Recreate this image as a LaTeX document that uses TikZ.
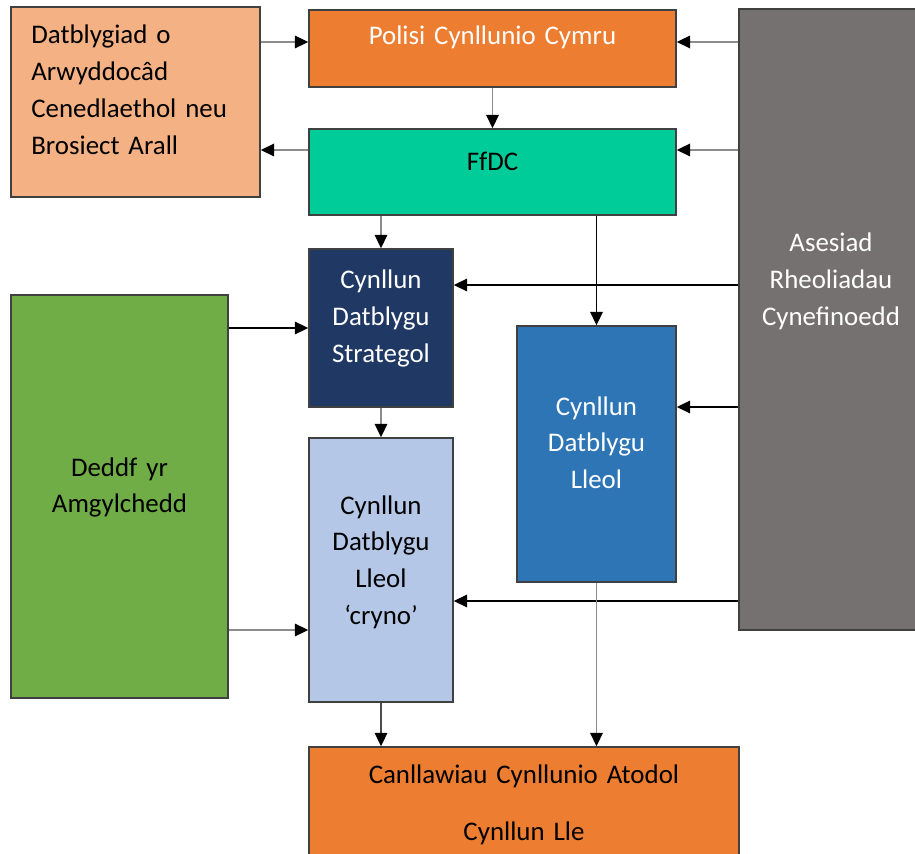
\documentclass[tikz,border=0pt]{standalone}
\usepackage{fontspec}
\setmainfont{Carlito}
\usepackage{tikz}
\usetikzlibrary{arrows.meta, positioning}
\definecolor{peach}{HTML}{F4B183}
\definecolor{oren}{HTML}{ED7D31}
\definecolor{gwyrddlas}{HTML}{00CC99}
\definecolor{llwyd}{HTML}{767171}
\definecolor{glastywyll}{HTML}{203864}
\definecolor{glas}{HTML}{2E75B6}
\definecolor{gwyrdd}{HTML}{70AD47}
\definecolor{glasgolau}{HTML}{B4C7E7}

\begin{document}
\begin{tikzpicture}[
                x=0.02cm, y=-0.02cm,
                box/.style={draw=black!75, line width=0.8pt, inner sep=0pt},
                lbl/.style={anchor=base, inner sep=0pt, text width=4.6cm, align=center, font=\fontsize{15.3}{21.05}\selectfont},
                arr/.style={-{Triangle[length=2.7mm, width=2.5mm, color=black]}, line width=1pt, black!45},
                darr/.style={arr, black}
            ]
                \useasboundingbox (0,0) rectangle (915,854);

                \node[box, fill=peach, minimum width=4.98cm, minimum height=3.8cm] (dev) at (135.5,102) {};
                \node[box, fill=oren, minimum width=7.34cm, minimum height=1.54cm] (polisi) at (492.5,48.5) {};
                \node[box, fill=gwyrddlas, minimum width=7.34cm, minimum height=1.72cm] (ffdc) at (492.5,172) {};
                \node[box, fill=llwyd, minimum width=3.68cm, minimum height=12.42cm] (asesiad) at (831,319.5) {};
                \node[box, fill=glastywyll, minimum width=2.88cm, minimum height=3.16cm] (cds) at (381,328) {};
                \node[box, fill=glas, minimum width=3.18cm, minimum height=5.12cm] (cdll) at (596.5,454) {};
                \node[box, fill=gwyrdd, minimum width=4.34cm, minimum height=8.06cm] (deddf) at (119.5,496.5) {};
                \node[box, fill=glasgolau, minimum width=2.88cm, minimum height=5.28cm] (cryno) at (381,570) {};
                \node[box, fill=oren, minimum width=8.6cm, minimum height=2.46cm] (cca) at (524,808.5) {};

                \node[lbl, anchor=base west, align=left] (dev-t) at (31,44) {Datblygiad o\\Arwyddocâd\\Cenedlaethol neu\\Brosiect Arall};
                \node[lbl, text=white, text width=7cm] (polisi-t) at (492.5,45) {Polisi Cynllunio Cymru};
                \node[lbl] (ffdc-t) at (492.5,171) {FfDC};
                \node[lbl, text=white] (asesiad-t) at (831,252) {Asesiad\\Rheoliadau\\Cynefinoedd};
                \node[lbl, text=white] (cds-t) at (381,289) {Cynllun\\Datblygu\\Strategol};
                \node[lbl, text=white] (cdll-t) at (596.5,415) {Cynllun\\Datblygu\\Lleol};
                \node[lbl] (deddf-t) at (119.5,476) {Deddf yr\\Amgylchedd};
                \node[lbl] (cryno-t) at (381,514) {Cynllun\\Datblygu\\Lleol\\‘cryno’};
                \node[lbl, text width=8cm] (cca-t) at (524,783) {Canllawiau Cynllunio Atodol\\[0.42cm]Cynllun Lle};

                \draw[arr] (dev.east |- 0,42) -- (polisi.west |- 0,42);
                \draw[arr] (ffdc.west |- 0,150) -- (dev.east |- 0,150);
                \draw[arr] (asesiad.west |- 0,42) -- (polisi.east |- 0,42);
                \draw[arr] (asesiad.west |- 0,150) -- (ffdc.east |- 0,150);
                \draw[arr] (polisi.south) -- (ffdc.north);
                \draw[arr] (ffdc.south -| cds.north) -- (cds.north);
                \draw[darr] (ffdc.south -| cdll.north) -- (cdll.north);
                \draw[darr] (asesiad.west |- 0,285) -- (cds.east |- 0,285);
                \draw[darr] (asesiad.west |- 0,407) -- (cdll.east |- 0,407);
                \draw[darr] (asesiad.west |- 0,601) -- (cryno.east |- 0,601);
                \draw[darr] (deddf.east |- cds.west) -- (cds.west);
                \draw[arr] (deddf.east |- 0,630) -- (cryno.west |- 0,630);
                \draw[arr] (cds.south) -- (cryno.north);
                \draw[arr, black!70] (cryno.south) -- (cca.north -| cryno.south);
                \draw[arr] (cdll.south) -- (cca.north -| cdll.south);
            \end{tikzpicture}
\end{document}
